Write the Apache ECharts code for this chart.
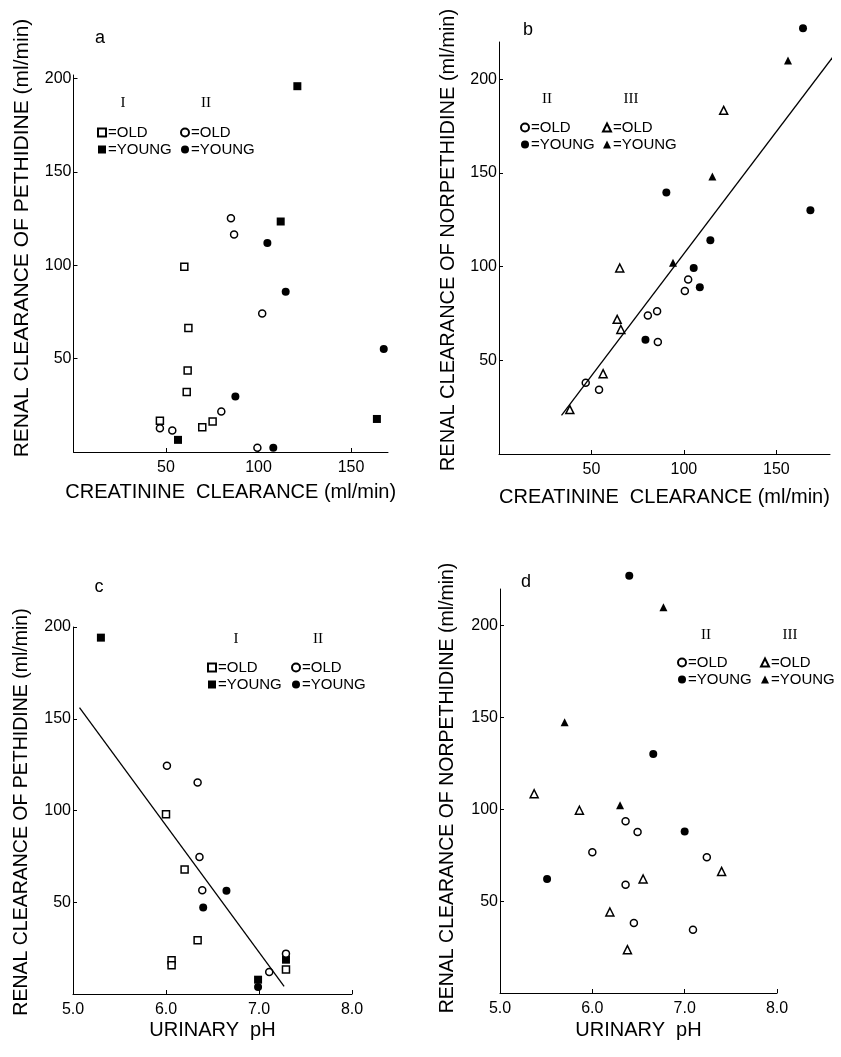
<!DOCTYPE html>
<html>
<head>
<meta charset="utf-8">
<script src="https://cdn.jsdelivr.net/npm/echarts@6/dist/echarts.min.js"></script>
<style>
html, body { margin: 0; background: #fff; }
#main { width: 841px; height: 1057px; }
</style>
</head>
<body>
<div id="main"></div>
<script>
// panel a: creatinine clearance vs renal clearance of pethidine
var aOldI    = [[59.9,99.3],[62.1,66.5],[61.7,43.7],[61.2,32.1],[46.7,16.8],[69.6,13.3],[75.2,16.3]];
var aYoungI  = [[121,196],[112,123.5],[56.5,6.5],[164,17.7]];
var aOldII   = [[85.1,125.3],[86.8,116.5],[102,74.2],[79.9,21.7],[46.7,12.7],[53.4,11.5],[99.4,2.3]];
var aYoungII = [[104.8,112],[114.7,85.8],[87.5,29.7],[167.7,55.2],[108,2.3]];

// panel b: creatinine clearance vs renal clearance of norpethidine
var bOldII    = [[46.9,38.1],[54.1,34.3],[80.5,74],[85.5,76.2],[85.9,59.8],[100.5,87],[102.3,93.2]];
var bYoungII  = [[164.4,227.4],[90.5,139.7],[168.4,130.1],[114.3,114.1],[105.3,99.3],[108.6,89],[79.2,61]];
var bOldIII   = [[121.5,183.5],[65.3,99.3],[63.9,71.9],[65.9,66.5],[56.3,42.9],[38.3,23.7]];
var bYoungIII = [[156.3,210.1],[115.4,148.2],[94.1,102.1]];
var bFit      = [[33.8,20.6],[184.6,217.3]];

// panel c: urinary pH vs renal clearance of pethidine
var cOldI    = [[6.0,98],[6.2,67.8],[6.34,29.3],[6.06,18.4],[6.06,15.6],[7.29,13.3]];
var cYoungI  = [[5.3,194.2],[6.99,7.8],[7.29,18.7]];
var cOldII   = [[6.01,124.4],[6.34,115.3],[6.36,74.7],[6.39,56.5],[7.11,12],[7.29,22]];
var cYoungII = [[6.4,47.1],[6.65,56.2],[6.99,3.8]];
var cFit     = [[5.07,156],[7.27,4.2]];

// panel d: urinary pH vs renal clearance of norpethidine
var dOldII    = [[6.36,93.5],[6.49,87.7],[6.0,76.6],[7.24,73.9],[6.36,59],[6.45,38.1],[7.09,34.5]];
var dYoungII  = [[6.4,227.2],[6.66,130.1],[7.0,88],[5.51,62.1]];
var dOldIII   = [[5.37,108.5],[5.86,99.5],[6.55,62.1],[7.4,66.2],[6.19,44.1],[6.38,23.6]];
var dYoungIII = [[6.77,210],[5.7,147.5],[6.3,102.2]];

var clearanceTicks = [50, 100, 150];
var rateTicks = [50, 100, 150, 200];
var phTicks = [5, 6, 7, 8];

var FONT = '"Liberation Sans", Arial, sans-serif';
var SERIF = '"Liberation Serif", "Times New Roman", serif';

var chart = echarts.init(document.getElementById('main'));

function xAxis(gi, min, max, ticks, name, gap, fmt) {
    return {
        type: 'value', gridIndex: gi, min: min, max: max,
        name: name, nameLocation: 'middle', nameGap: gap,
        nameTextStyle: { fontSize: 20, fontFamily: FONT, color: '#000' },
        axisLine: { show: true, onZero: false, lineStyle: { color: '#000', width: 1 } },
        axisTick: { show: true, inside: true, length: 4, customValues: ticks, lineStyle: { color: '#000' } },
        axisLabel: { customValues: ticks, formatter: fmt, fontSize: 16, fontFamily: FONT, color: '#000', margin: 8 },
        splitLine: { show: false }
    };
}

function yAxis(gi, max) {
    return {
        type: 'value', gridIndex: gi, min: 0, max: max,
        axisLine: { show: true, onZero: false, lineStyle: { color: '#000', width: 1 } },
        axisTick: { show: true, inside: true, length: 4, customValues: rateTicks, lineStyle: { color: '#000' } },
        axisLabel: { customValues: rateTicks, fontSize: 16, fontFamily: FONT, color: '#000', margin: 2 },
        splitLine: { show: false }
    };
}

function pts(name, gi, data, symbol, filled, size) {
    return {
        name: name, type: 'scatter', xAxisIndex: gi, yAxisIndex: gi,
        data: data, symbol: symbol, symbolSize: size || 8, clip: false,
        itemStyle: { color: filled ? '#000' : '#fff', borderColor: '#000', borderWidth: filled ? 0 : 1.5, opacity: 1 },
        emphasis: { disabled: true }
    };
}

function fit(gi, data) {
    return {
        type: 'line', xAxisIndex: gi, yAxisIndex: gi, data: data,
        symbol: 'none', clip: false, silent: true,
        lineStyle: { color: '#000', width: 1.3 }
    };
}

function legend(left, top, names) {
    return {
        data: names, left: left, top: top, orient: 'vertical',
        padding: 0, itemGap: 2, itemWidth: 8, itemHeight: 8, selectedMode: false,
        formatter: function (n) { return '=' + n.split(' ').pop(); },
        textStyle: { fontSize: 15, fontFamily: FONT, color: '#000', padding: [0, 0, 0, -3] }
    };
}

function label(x, y, text, size, font) {
    return { type: 'text', x: x, y: y, style: { text: text, fontSize: size, fontFamily: font || FONT, fill: '#000', align: 'center', verticalAlign: 'middle' } };
}

function yName(x, y, text, size) {
    return { type: 'text', x: x, y: y, rotation: Math.PI / 2,
        style: { text: text, fontSize: size, fontFamily: FONT, fill: '#000', align: 'center', verticalAlign: 'middle' } };
}

var oneDec = function (v) { return v.toFixed(1); };

option = {
    backgroundColor: '#fff',
    animation: false,
    grid: [
        { left: 73.5, top: 75, width: 314.5, height: 377 },
        { left: 499, top: 42, width: 331, height: 412 },
        { left: 73, top: 627, width: 279, height: 367 },
        { left: 500, top: 589, width: 277, height: 404 }
    ],
    xAxis: [
        xAxis(0, 0, 170, clearanceTicks, 'CREATININE  CLEARANCE (ml/min)', 30),
        xAxis(1, 0, 179, clearanceTicks, 'CREATININE  CLEARANCE (ml/min)', 33),
        xAxis(2, 5, 8, phTicks, 'URINARY  pH', 26, oneDec),
        xAxis(3, 5, 8, phTicks, 'URINARY  pH', 27, oneDec)
    ],
    yAxis: [yAxis(0, 202), yAxis(1, 220), yAxis(2, 200), yAxis(3, 220)],
    legend: [
        legend(97, 125, ['a I OLD', 'a I YOUNG']),
        legend(180, 125, ['a II OLD', 'a II YOUNG']),
        legend(520, 120, ['b II OLD', 'b II YOUNG']),
        legend(602, 120, ['b III OLD', 'b III YOUNG']),
        legend(207, 660, ['c I OLD', 'c I YOUNG']),
        legend(291, 660, ['c II OLD', 'c II YOUNG']),
        legend(677, 655, ['d II OLD', 'd II YOUNG']),
        legend(760, 655, ['d III OLD', 'd III YOUNG'])
    ],
    graphic: [
        label(100, 38, 'a', 18), label(528, 30, 'b', 18),
        label(99, 587, 'c', 18), label(526, 582, 'd', 18),
        label(123, 103, 'I', 15, SERIF), label(206, 103, 'II', 15, SERIF),
        label(547, 99, 'II', 15, SERIF), label(631, 99, 'III', 15, SERIF),
        label(236, 639, 'I', 15, SERIF), label(318, 639, 'II', 15, SERIF),
        label(706, 635, 'II', 15, SERIF), label(790, 635, 'III', 15, SERIF),
        yName(22, 238, 'RENAL CLEARANCE OF PETHIDINE (ml/min)', 21),
        yName(448, 240, 'RENAL CLEARANCE OF NORPETHIDINE (ml/min)', 20),
        yName(22, 812, 'RENAL CLEARANCE OF PETHIDINE (ml/min)', 19.5),
        yName(448, 788, 'RENAL CLEARANCE OF NORPETHIDINE (ml/min)', 19.5)
    ],
    series: [
        pts('a I OLD', 0, aOldI, 'rect', false, 7),
        pts('a I YOUNG', 0, aYoungI, 'rect', true, 8),
        pts('a II OLD', 0, aOldII, 'circle', false, 7),
        pts('a II YOUNG', 0, aYoungII, 'circle', true, 8),

        fit(1, bFit),
        pts('b II OLD', 1, bOldII, 'circle', false, 7),
        pts('b II YOUNG', 1, bYoungII, 'circle', true, 8),
        pts('b III OLD', 1, bOldIII, 'triangle', false, 8),
        pts('b III YOUNG', 1, bYoungIII, 'triangle', true, 8),

        fit(2, cFit),
        pts('c I OLD', 2, cOldI, 'rect', false, 7),
        pts('c I YOUNG', 2, cYoungI, 'rect', true, 8),
        pts('c II OLD', 2, cOldII, 'circle', false, 7),
        pts('c II YOUNG', 2, cYoungII, 'circle', true, 8),

        pts('d II OLD', 3, dOldII, 'circle', false, 7),
        pts('d II YOUNG', 3, dYoungII, 'circle', true, 8),
        pts('d III OLD', 3, dOldIII, 'triangle', false, 8),
        pts('d III YOUNG', 3, dYoungIII, 'triangle', true, 8)
    ]
};

chart.setOption(option);
</script>
</body>
</html>
